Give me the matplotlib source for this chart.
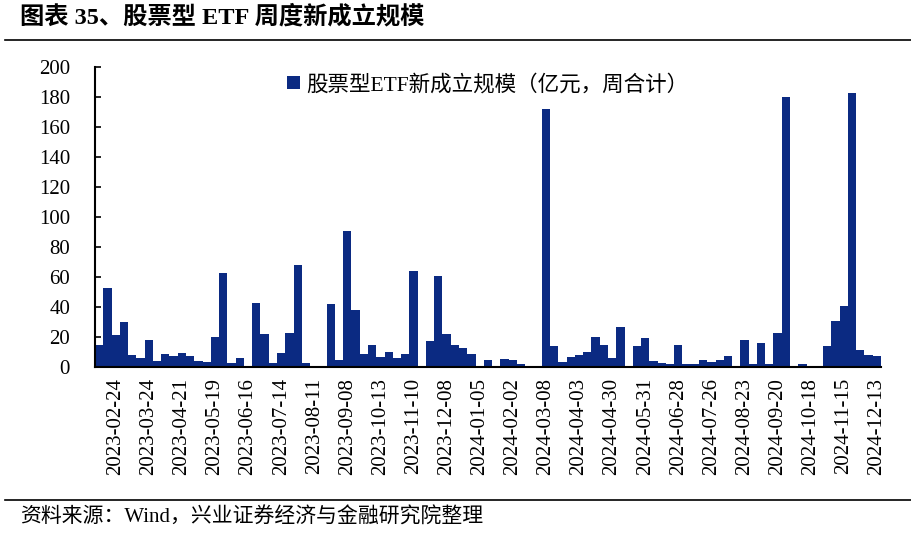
import matplotlib
matplotlib.use("Agg")
import matplotlib.pyplot as plt
import numpy as np

plt.rcParams["font.family"] = ["Liberation Serif", "Noto Sans CJK SC"]

values = [14.7,53,21.3,29.8,8,5.8,17.8,4,8.4,7.6,9.3,7.3,4.2,3.1,20,63,2.4,5.8,0.5,43,
          22,2.4,9.3,23,68,2.7,0.3,0.3,42,5,91,38,9,14.5,6.7,10,
          6,9,64,0,17.5,60.7,21.8,14.7,12.9,8.4,0,5,0.5,5.3,5,2.2,0,0,171.8,14.2,3.3,6.9,8,10.2,
          20.2,14.7,5.8,26.9,0,14,
          19.3,3.7,2.4,2,14.4,2,2,4.9,3.3,4.7,7.3,0,17.8,2,16,2,22.4,179.8,0,1.8,0,0,13.8,31,
          40.4,182.4,11.1,8,7.6]
tick_labels = ["2023-02-24","2023-03-24","2023-04-21","2023-05-19","2023-06-16","2023-07-14",
               "2023-08-11","2023-09-08","2023-10-13","2023-11-10","2023-12-08","2024-01-05",
               "2024-02-02","2024-03-08","2024-04-03","2024-04-30","2024-05-31","2024-06-28",
               "2024-07-26","2024-08-23","2024-09-20","2024-10-18","2024-11-15","2024-12-13"]
tick_start, tick_step = 2, 4
legend_label = "股票型ETF新成立规模（亿元，周合计）"
color = "#0b2a82"

fig = plt.figure(figsize=(9.11, 5.37), dpi=100)
ax = fig.add_axes([95/911, 1-367/537, 786/911, 300/537])
x = np.arange(len(values))
ax.bar(x, values, width=1.0, color=color, label=legend_label, linewidth=0)
ax.set_xlim(-0.5, len(values)-0.5)
ax.set_ylim(0, 200)
ax.set_yticks(np.arange(0, 201, 20))
ax.tick_params(axis="y", direction="in", length=4, width=1.2, labelsize=15, pad=18)
pos = [tick_start + tick_step*i for i in range(len(tick_labels))]
ax.set_xticks(pos)
ax.set_xticklabels(tick_labels, rotation=90, fontsize=15)
ax.tick_params(axis="x", length=0, pad=8)
for s in ["top", "right"]:
    ax.spines[s].set_visible(False)
ax.spines["left"].set_linewidth(1.5)
ax.spines["bottom"].set_linewidth(1.5)
ax.legend(loc="upper center", bbox_to_anchor=(0.5, 1.04), frameon=False, fontsize=15.5,
          handlelength=0.6, handleheight=0.6, handletextpad=0.3)

fig.text(20/911, 1-17/537, "图表 35、股票型 ETF 周度新成立规模", fontsize=17.5, fontweight="bold",
         va="center", ha="left")
fig.add_artist(plt.Line2D([5/911, 1.0], [1-40/537]*2, color="black", lw=1.2))
fig.add_artist(plt.Line2D([5/911, 1.0], [1-500/537]*2, color="black", lw=1.2))
fig.text(20/911, 1-518/537, "资料来源：Wind，兴业证券经济与金融研究院整理", fontsize=15,
         va="center", ha="left")
fig.savefig("out.png", dpi=100)
